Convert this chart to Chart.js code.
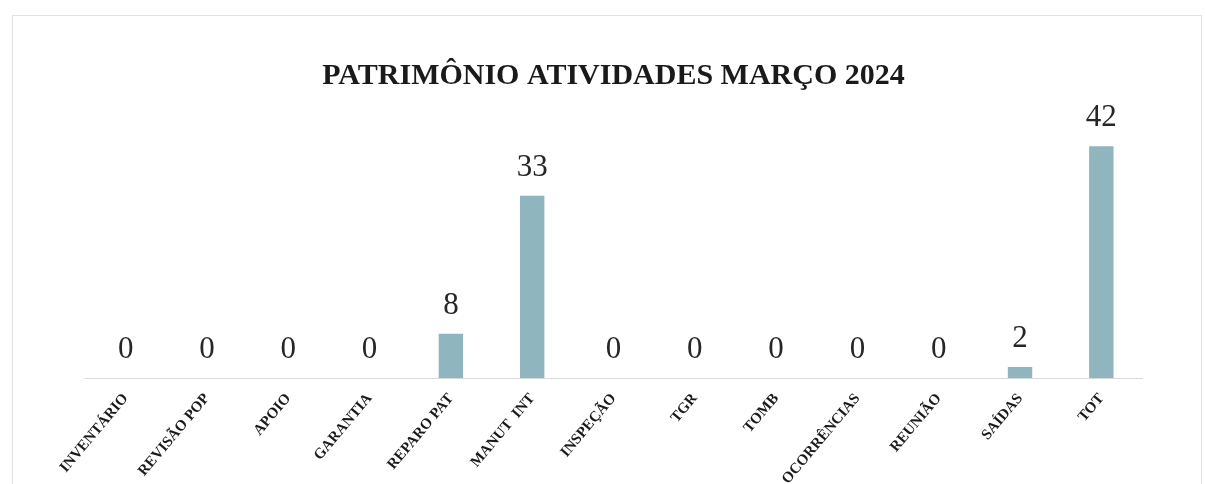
<!DOCTYPE html>
<html><head><meta charset="utf-8">
<script src="https://cdn.jsdelivr.net/npm/chart.js@4.4.1/dist/chart.umd.min.js"></script>
<style>
html,body{margin:0;padding:0;background:#fff;}
#wrap{position:relative;width:1205px;height:484px;overflow:hidden;}
#frame{position:absolute;left:12px;top:15px;width:1190px;height:480px;border:1px solid #e2e2e2;box-sizing:border-box;}
canvas{position:absolute;left:0;top:0;}
</style></head>
<body><div id="wrap"><div id="frame"></div><canvas id="c" width="1205" height="484"></canvas></div>
<script>
const categories = ["INVENTÁRIO","REVISÃO POP","APOIO","GARANTIA","REPARO PAT","MANUT  INT","INSPEÇÃO","TGR","TOMB","OCORRÊNCIAS","REUNIÃO","SAÍDAS","TOT"];
const values = [0,0,0,0,8,33,0,0,0,0,0,2,42];
const chartTitle = "PATRIMÔNIO ATIVIDADES MARÇO 2024";

const valueLabels = {
  id:'valueLabels',
  afterDatasetsDraw(chart){
    const ctx = chart.ctx;
    const meta = chart.getDatasetMeta(0);
    ctx.save();
    ctx.font = '31px "Liberation Serif", "Times New Roman", serif';
    ctx.fillStyle = '#262626';
    ctx.textAlign = 'center';
    ctx.textBaseline = 'alphabetic';
    meta.data.forEach((bar,i)=>{
      ctx.fillText(String(values[i]), bar.x, bar.y - 20);
    });
    ctx.restore();
  }
};

new Chart(document.getElementById('c'), {
  type:'bar',
  data:{labels:categories, datasets:[{data:values, backgroundColor:'#8fb5bf', borderWidth:0, barPercentage:0.3, categoryPercentage:1}]},
  options:{
    responsive:false, animation:false,
    layout:{padding:{left:85,right:63,top:0,bottom:0}},
    plugins:{
      legend:{display:false}, tooltip:{enabled:false},
      title:{display:true, text:chartTitle, color:'#1a1a1a',
        font:{family:'"Liberation Serif", "Times New Roman", serif', size:30, weight:'bold', lineHeight:1.2},
        padding:{top:58,bottom:8}}
    },
    scales:{
      x:{
        grid:{display:false, drawTicks:false},
        border:{display:true, color:'#d9d9d9', width:1},
        ticks:{minRotation:50, maxRotation:50, autoSkip:false, padding:12, color:'#1a1a1a',
          font:{family:'"Liberation Serif", "Times New Roman", serif', size:15, weight:'bold'}},
        afterFit(s){ s.height = 106; }
      },
      y:{display:false, min:0, max:50}
    }
  },
  plugins:[valueLabels]
});
</script></body></html>
